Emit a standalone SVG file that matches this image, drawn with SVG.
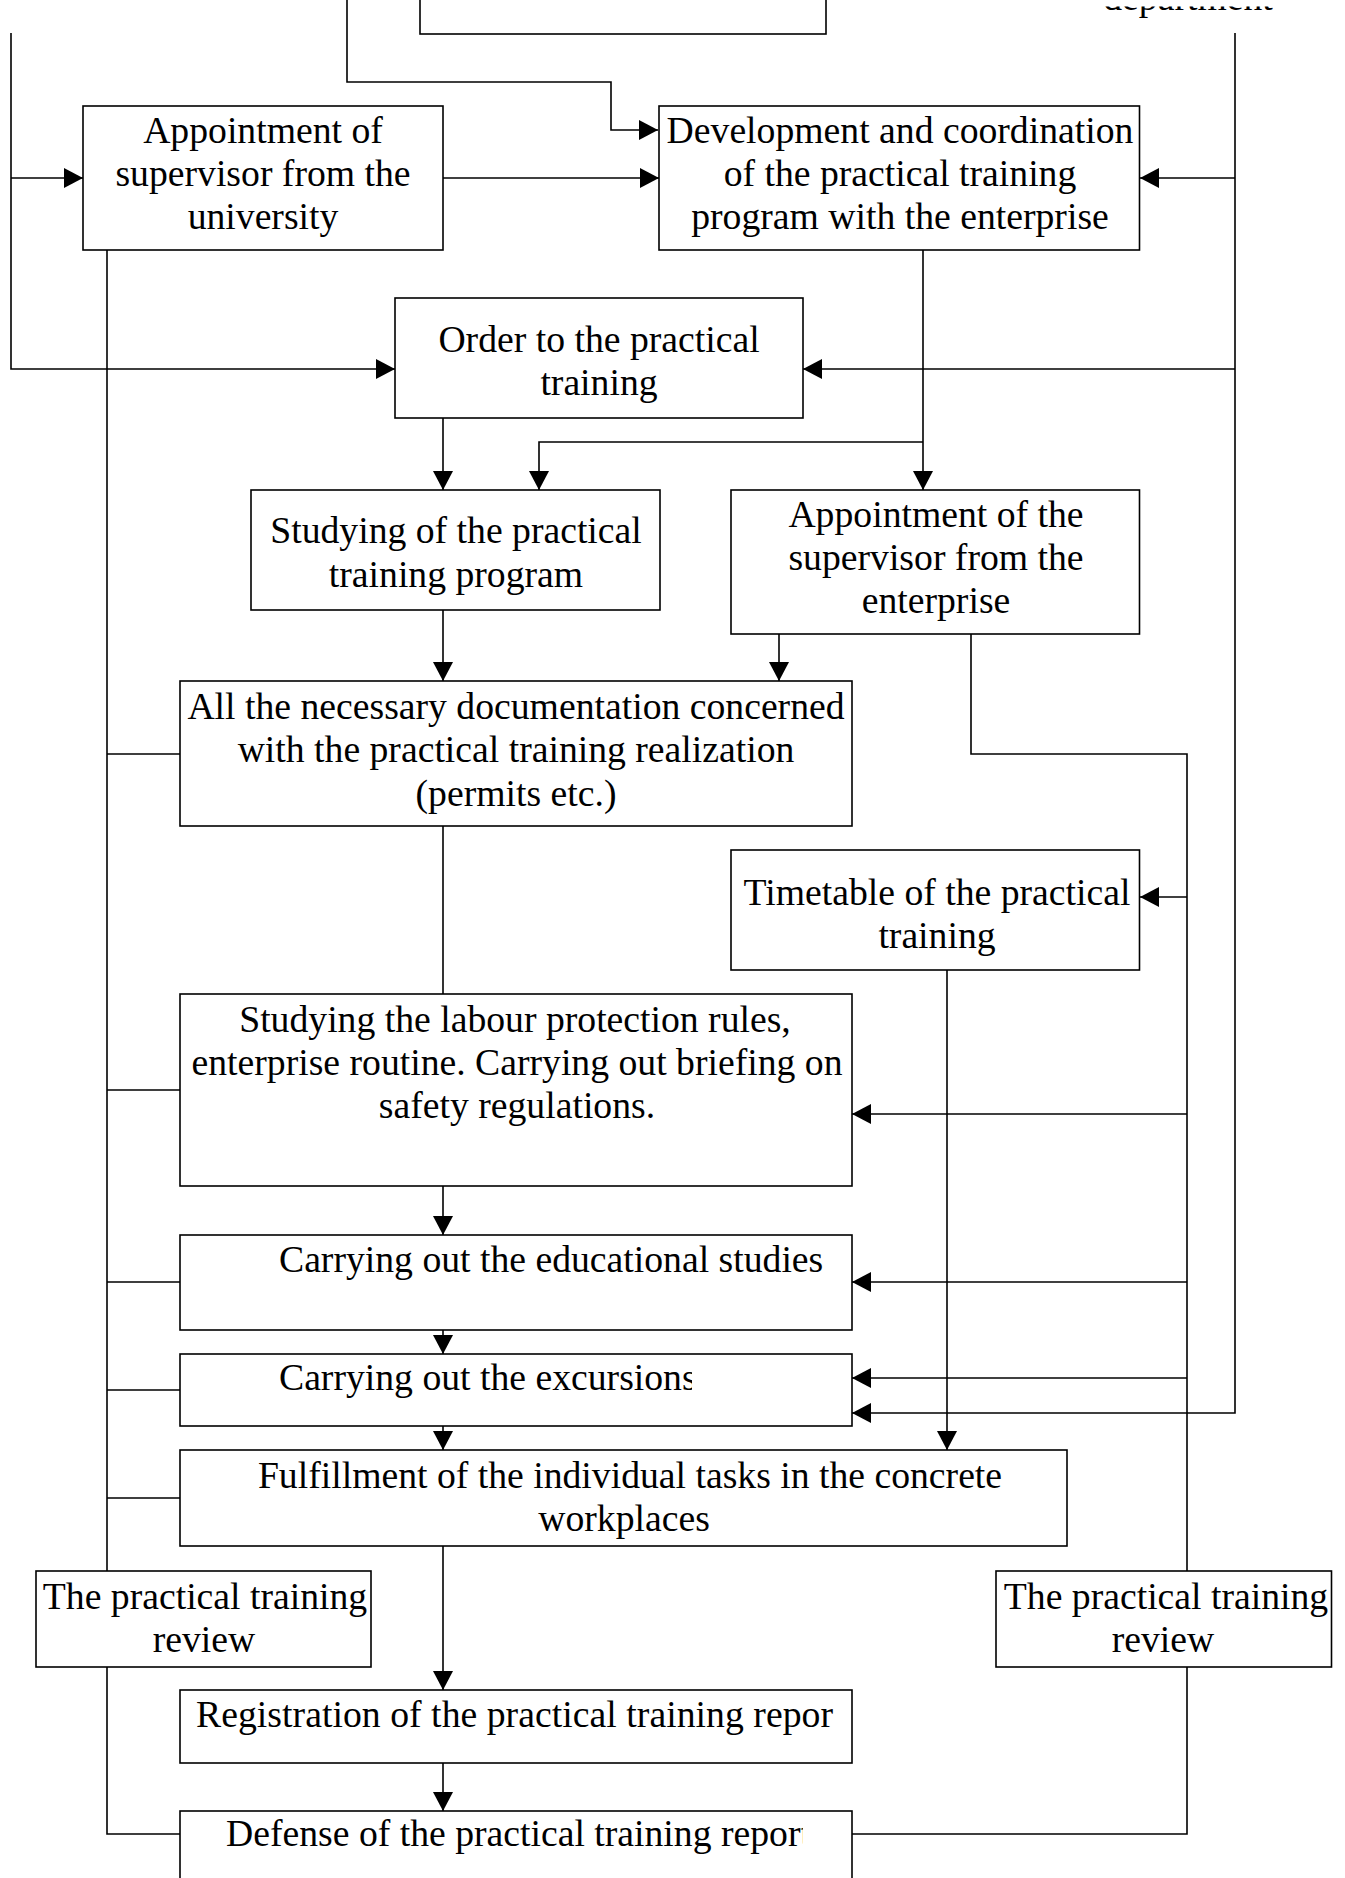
<svg xmlns="http://www.w3.org/2000/svg" width="1345" height="1878" viewBox="0 0 1345 1878">
<style>
.box{fill:#fff;stroke:#000;stroke-width:1.6}
.c{fill:none;stroke:#000;stroke-width:1.6}
.a{fill:none;stroke:#000;stroke-width:1.6;marker-end:url(#ah)}
text{font-family:"Liberation Serif","Times New Roman",serif;font-size:37.7px;fill:#000}
.m{text-anchor:middle}
</style>
<defs>
<marker id="ah" markerUnits="userSpaceOnUse" markerWidth="20" markerHeight="20" refX="19" refY="10" orient="auto">
<path d="M0,0 L19,10 L0,20 z" fill="#000"/>
</marker>
<clipPath id="clipTop"><rect x="1000" y="6.5" width="345" height="40"/></clipPath>
<clipPath id="clipI"><rect x="180" y="1354" width="512" height="72"/></clipPath>
<clipPath id="clipN"><rect x="180" y="1811" width="623" height="80"/></clipPath>
</defs>
<rect width="1345" height="1878" fill="#fff"/>

<g id="connectors">
<path class="a" d="M347,0 V82 H611 V130 H658"/>
<path class="a" d="M11,33 V369 H395"/>
<path class="a" d="M11,178 H83"/>
<path class="a" d="M1235,33 V1413 H852"/>
<path class="a" d="M1235,178 H1140"/>
<path class="a" d="M1235,369 H803"/>
<path class="a" d="M443,178 H659"/>
<path class="a" d="M923,250 V490"/>
<path class="a" d="M923,442 H539 V490"/>
<path class="a" d="M443,418 V490"/>
<path class="a" d="M443,610 V681"/>
<path class="a" d="M779,634 V681"/>
<path class="c" d="M971,634 V754 H1187 V1571"/>
<path class="a" d="M1187,897 H1140"/>
<path class="a" d="M1187,1114 H852"/>
<path class="a" d="M1187,1282 H852"/>
<path class="a" d="M1187,1378 H852"/>
<path class="a" d="M947,970 V1450"/>
<path class="c" d="M443,826 V994"/>
<path class="a" d="M443,1186 V1235"/>
<path class="a" d="M443,1330 V1354"/>
<path class="a" d="M443,1426 V1450"/>
<path class="a" d="M443,1546 V1690"/>
<path class="a" d="M443,1763 V1811"/>
<path class="c" d="M107,250 V1571"/>
<path class="c" d="M107,1667 V1834 H180"/>
<path class="c" d="M107,754 H180 M107,1090 H180 M107,1282 H180 M107,1390 H180 M107,1498 H180"/>
<path class="c" d="M1187,1667 V1834 H852"/>
</g>

<g id="top-box">
<rect class="box" x="420" y="-10" width="406" height="44"/>
</g>
<g id="top-department">
<text class="m" x="1188" y="10" clip-path="url(#clipTop)">department</text>
</g>

<g id="n-univ-supervisor">
<rect class="box" x="83" y="106" width="360" height="144"/>
<text class="m" x="263" y="143">Appointment of</text>
<text class="m" x="263" y="186">supervisor from the</text>
<text class="m" x="263" y="229">university</text>
</g>

<g id="n-development">
<rect class="box" x="659" y="106" width="480.5" height="144"/>
<text class="m" x="900" y="143">Development and coordination</text>
<text class="m" x="900" y="186">of the practical training</text>
<text class="m" x="900" y="229">program with the enterprise</text>
</g>

<g id="n-order">
<rect class="box" x="395" y="298" width="408" height="120"/>
<text class="m" x="599" y="352">Order to the practical</text>
<text class="m" x="599" y="395">training</text>
</g>

<g id="n-studying-program">
<rect class="box" x="251" y="490" width="409" height="120"/>
<text class="m" x="456" y="543">Studying of the practical</text>
<text class="m" x="456" y="587">training program</text>
</g>

<g id="n-enterprise-supervisor">
<rect class="box" x="731" y="490" width="408.5" height="144"/>
<text class="m" x="936" y="527">Appointment of the</text>
<text class="m" x="936" y="570">supervisor from the</text>
<text class="m" x="936" y="613">enterprise</text>
</g>

<g id="n-documentation">
<rect class="box" x="180" y="681" width="672" height="145"/>
<text class="m" x="516" y="719">All the necessary documentation concerned</text>
<text class="m" x="516" y="762">with the practical training realization</text>
<text class="m" x="516" y="806">(permits etc.)</text>
</g>

<g id="n-timetable">
<rect class="box" x="731" y="850" width="408.5" height="120"/>
<text class="m" x="937" y="905">Timetable of the practical</text>
<text class="m" x="937" y="948">training</text>
</g>

<g id="n-labour">
<rect class="box" x="180" y="994" width="672" height="192"/>
<text class="m" x="515" y="1032">Studying the labour protection rules,</text>
<text class="m" x="517" y="1075">enterprise routine. Carrying out briefing on</text>
<text class="m" x="517" y="1118">safety regulations.</text>
</g>

<g id="n-educational">
<rect class="box" x="180" y="1235" width="672" height="95"/>
<text x="279" y="1272">Carrying out the educational studies</text>
</g>

<g id="n-excursions">
<rect class="box" x="180" y="1354" width="672" height="72"/>
<text x="279" y="1390" clip-path="url(#clipI)">Carrying out the excursions</text>
</g>

<g id="n-fulfillment">
<rect class="box" x="180" y="1450" width="887" height="96"/>
<text class="m" x="630" y="1488">Fulfillment of the individual tasks in the concrete</text>
<text class="m" x="624" y="1531">workplaces</text>
</g>

<g id="n-review-left">
<rect class="box" x="36" y="1571" width="335" height="96"/>
<text class="m" x="205" y="1609">The practical training</text>
<text class="m" x="204" y="1652">review</text>
</g>

<g id="n-review-right">
<rect class="box" x="996" y="1571" width="335.5" height="96"/>
<text class="m" x="1166" y="1609">The practical training</text>
<text class="m" x="1163" y="1652">review</text>
</g>

<g id="n-registration">
<rect class="box" x="180" y="1690" width="672" height="73"/>
<text x="196" y="1727" textLength="637">Registration of the practical training repor</text>
</g>

<g id="n-defense">
<rect class="box" x="180" y="1811" width="672" height="90"/>
<text x="226" y="1846" clip-path="url(#clipN)">Defense of the practical training report</text>
</g>
</svg>
